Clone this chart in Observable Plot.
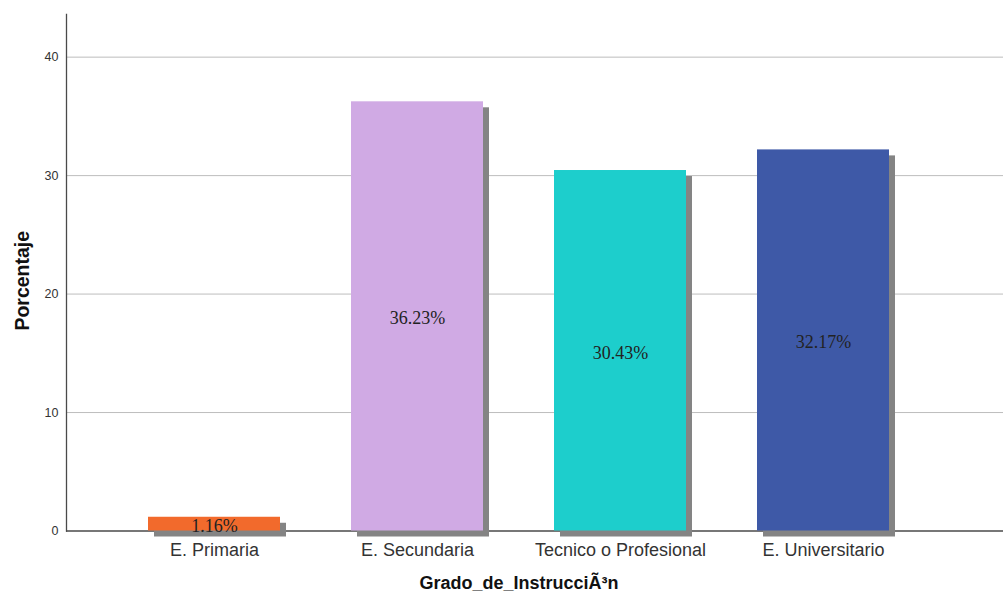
<!DOCTYPE html>
<html>
<head>
<meta charset="utf-8">
<script src="https://cdn.jsdelivr.net/npm/d3@7"></script>
<script src="https://cdn.jsdelivr.net/npm/@observablehq/plot@0.6"></script>
<style>
  html, body { margin: 0; padding: 0; background: #fff; }
  #chart svg { display: block; }
</style>
</head>
<body>
<div id="chart"></div>
<script>
const categories = ["E. Primaria", "E. Secundaria", "Tecnico o Profesional", "E. Universitario"];
const percentages = [1.16, 36.23, 30.43, 32.17];
const barColors = ["#F26A2C", "#D0AAE4", "#1DCECC", "#3E59A7"];
const yTicks = [0, 10, 20, 30, 40];
const xTitle = "Grado_de_InstrucciÃ³n";
const yTitle = "Porcentaje";

const data = categories.map((c, i) => ({cat: c, value: percentages[i], color: barColors[i], label: percentages[i].toFixed(2) + "%"}));

const chart = Plot.plot({
  width: 1003,
  height: 600,
  marginLeft: 66,
  marginRight: 0,
  marginTop: 14,
  marginBottom: 69.5,
  style: {fontFamily: "Liberation Sans, Arial, sans-serif", background: "#fff"},
  x: {domain: categories, range: [111.5, 926.5], paddingInner: 0.348, paddingOuter: 0.174, label: null},
  y: {domain: [0, 43.6], label: null},
  color: {type: "identity"},
  marks: [
    Plot.gridY(yTicks.slice(1), {stroke: "#bdbdbd", strokeOpacity: 1, strokeWidth: 1}),
    Plot.ruleY([0], {stroke: "#4a4a4a", strokeWidth: 1.3}),
    Plot.frame({anchor: "left", stroke: "#4a4a4a", strokeWidth: 1.3}),
    Plot.barY(data, {x: "cat", y: "value", fill: "#848484", dx: 6, dy: 6}),
    Plot.barY(data, {x: "cat", y: "value", fill: "color"}),
    Plot.text(data, {x: "cat", y: d => d.value / 2, text: "label", dy: 2, fontFamily: "Liberation Serif, serif", fontSize: 18, fill: "#222"}),
    Plot.axisY({ticks: yTicks, tickSize: 0, tickPadding: 8, fontSize: 12.5, color: "#333", label: null}),
    Plot.axisX({tickSize: 0, tickPadding: 12, fontSize: 18, color: "#333", label: null}),
    Plot.text([xTitle], {frameAnchor: "bottom", dx: -16, dy: 58, fontWeight: "bold", fontSize: 18, fill: "#111"}),
    Plot.text([yTitle], {frameAnchor: "left", textAnchor: "middle", dx: -44, dy: 8, rotate: -90, fontWeight: "bold", fontSize: 19.5, fill: "#111"})
  ]
});
document.getElementById("chart").appendChild(chart);
</script>
</body>
</html>
